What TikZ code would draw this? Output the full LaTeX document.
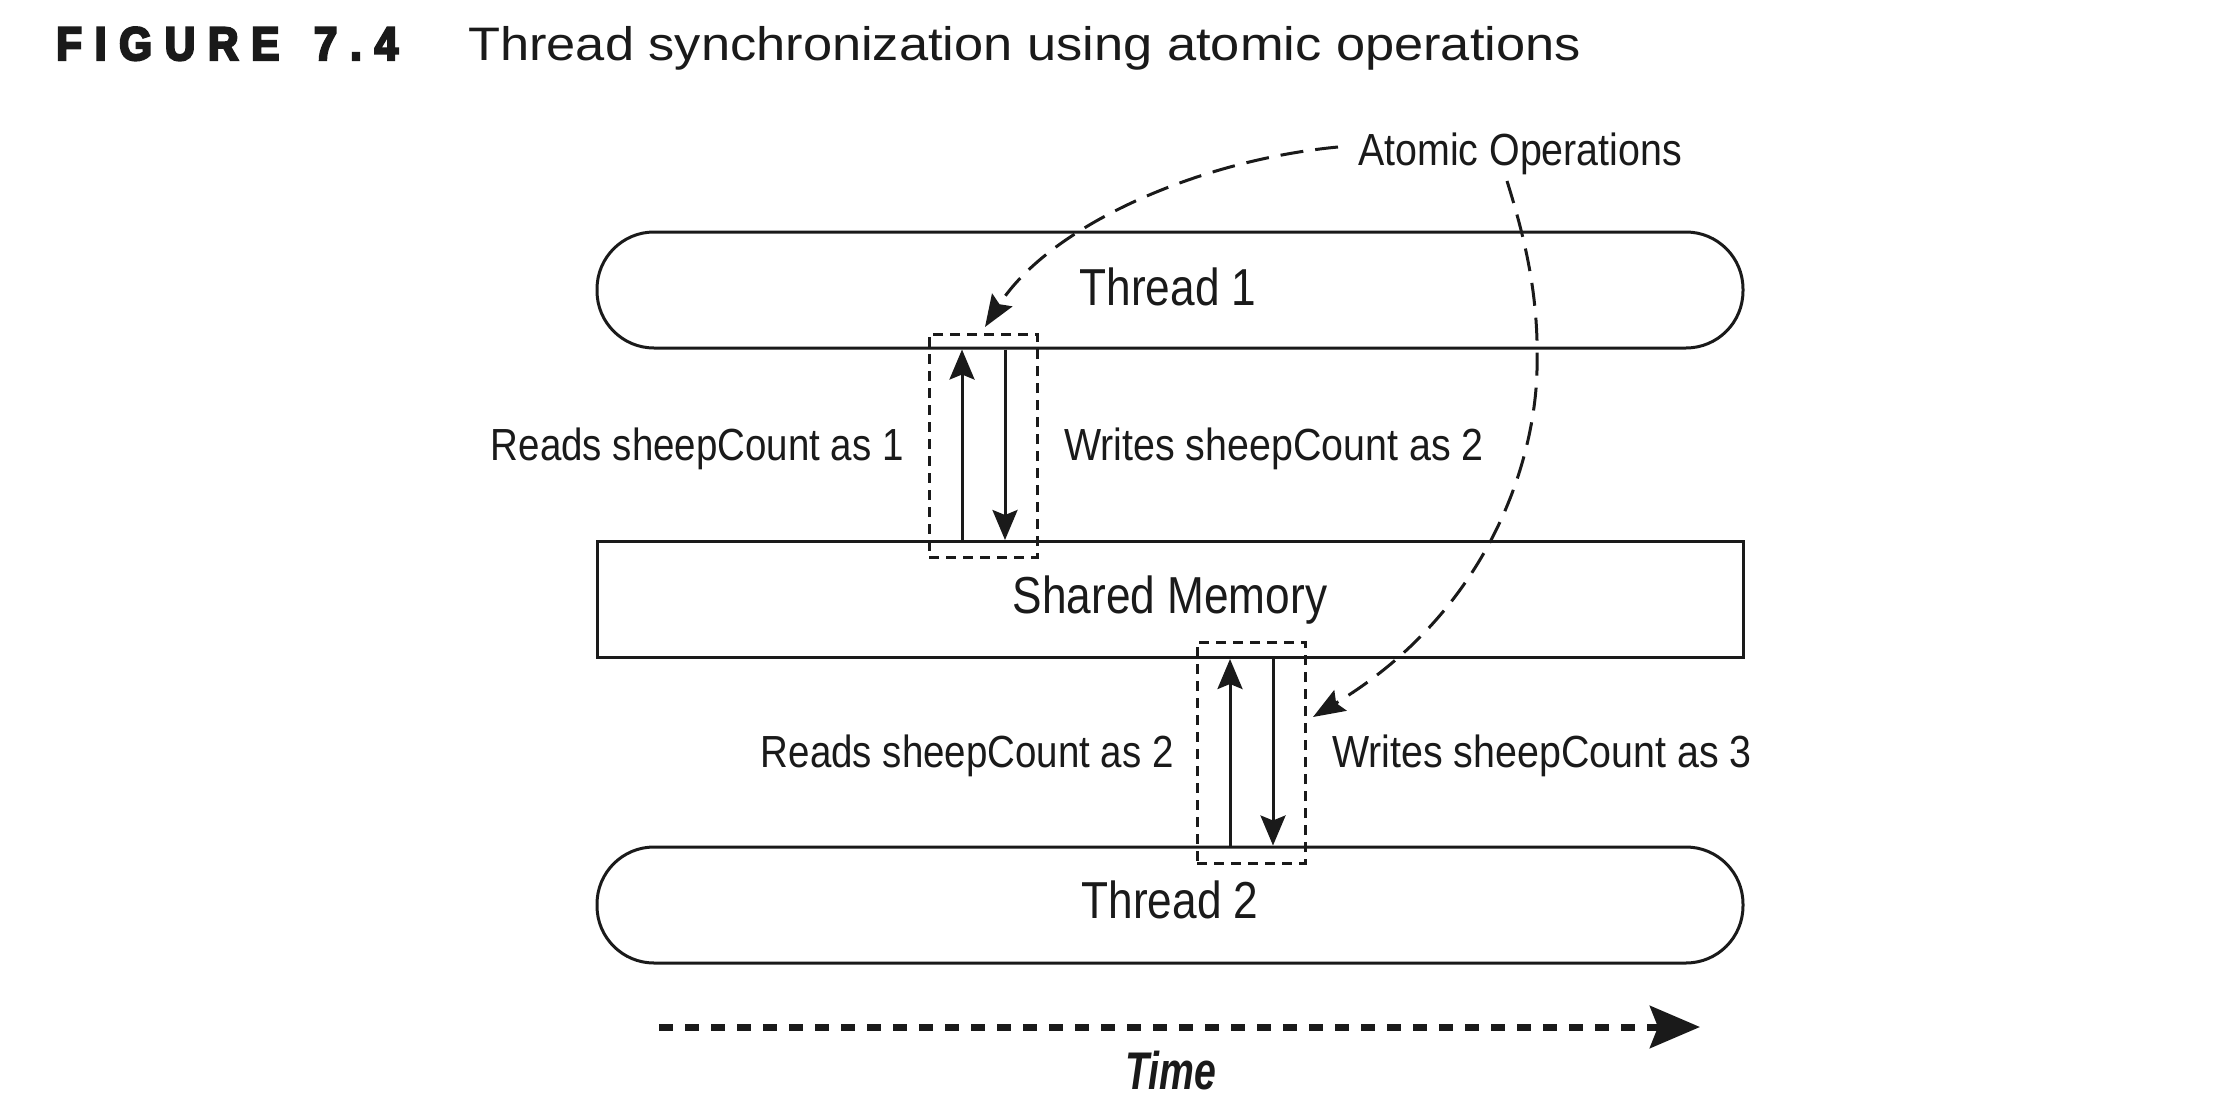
\documentclass[tikz,border=0pt]{standalone}
\usepackage{fontspec}
\setmainfont{Liberation Sans}[FakeStretch=0.85]
\newfontfamily\lblfont{Liberation Sans}[FakeStretch=0.875]
\newfontfamily\rdfont{Liberation Sans}[FakeStretch=0.855]
\newfontfamily\titlefont{Liberation Sans}[FakeStretch=1.115]
\newfontfamily\figfont{Liberation Sans Bold}[FakeStretch=0.9,LetterSpace=27,FakeBold=5]
\newfontfamily\timefont{Liberation Sans}[FakeStretch=0.74]
\usetikzlibrary{arrows.meta}
\definecolor{ink}{HTML}{1A1A1A}
\tikzset{
  panel/.style={draw=ink, line width=3, minimum width=1146, minimum height=116, inner sep=0},
  pill/.style={panel, rounded corners=57},
  bigtxt/.style={inner sep=0, anchor=base, text=ink, font=\fontsize{52}{60}\selectfont},
  lbl/.style={inner sep=0, text=ink, font=\lblfont\fontsize{45}{52}\selectfont},
  rdlbl/.style={inner sep=0, text=ink, font=\rdfont\fontsize{45}{52}\selectfont},
  dbox/.style={draw=ink, line width=3, dash pattern=on 10 off 7, minimum width=108, inner sep=0},
  arr/.style={draw=ink, line width=3, -{Stealth[length=30, width=25, inset=5]}},
  dcurve/.style={draw=ink, line width=3, dash pattern=on 23 off 12, -{Stealth[length=32, width=24, inset=5]}},
}
\begin{document}
\begin{tikzpicture}[x=1pt, y=-1pt]
\fill[white] (0,0) rectangle (2236,1098);
\useasboundingbox (0,0) rectangle (2236,1098);

% title
\node[anchor=base west, inner sep=0, text=ink] (fig) at (56,60)
  {\figfont\fontsize{47}{50}\selectfont FIGURE\hspace{10pt} 7.4};
\node[anchor=base west, inner sep=0, text=ink] (ttl) at (468,60)
  {\titlefont\fontsize{47}{55}\selectfont Thread synchronization using atomic operations};

% main boxes
\node[pill]  (t1) at (1170,290) {};
\node[panel] (sm) at (1170,599.5) {};
\node[pill]  (t2) at (1170,905) {};
\node[bigtxt] (t1l) at (1168,305) {Thread 1};
\node[bigtxt] (sml) at (1170,613) {Shared Memory};
\node[bigtxt] (t2l) at (1170,918) {Thread 2};

% dashed boxes
\node[dbox, minimum height=223] (db1) at (983,445.5) {};
\node[dbox, minimum height=221] (db2) at (1251,752.5) {};

% arrow x positions
\coordinate (x1) at (962,0);
\coordinate (x2) at (1005,0);
\coordinate (x3) at (1230,0);
\coordinate (x4) at (1273,0);
\draw[arr] (x1 |- sm.north) -- (x1 |- t1.south);
\draw[arr] (x2 |- t1.south) -- (x2 |- sm.north);
\draw[arr] (x3 |- t2.north) -- (x3 |- sm.south);
\draw[arr] (x4 |- sm.south) -- (x4 |- t2.north);

% labels
\node[rdlbl, anchor=base east] (r1) at (904,460) {Reads sheepCount as 1};
\node[lbl, anchor=base west] (w1) at (1064,460) {Writes sheepCount as 2};
\node[rdlbl, anchor=base east] (r2) at (1174,767) {Reads sheepCount as 2};
\node[lbl, anchor=base west] (w2) at (1332,767) {Writes sheepCount as 3};

% atomic operations
\node[lbl, anchor=base west] (ao) at (1358,165) {Atomic Operations};
\coordinate (c1s) at (1338,147);
\coordinate (c1e) at (985,327);
\coordinate (c2s) at (1507,181);
\coordinate (c2m) at (1537,370);
\coordinate (c2e) at (1313,717);
\draw[dcurve] (c1s) .. controls (1200,160) and (1050,225) .. (c1e);
\draw[dcurve] (c2s) .. controls (1527,245) and (1539,300) .. (c2m)
                    .. controls (1535,460) and (1490,610) .. (c2e);

% time arrow
\coordinate (ts) at (659,1027);
\coordinate (te) at (1700,1027);
\draw[ink, line width=7, dash pattern=on 14 off 12, -{Stealth[length=50, width=42, inset=8]}] (ts) -- (te);
\node[anchor=base, inner sep=0, text=ink] (time) at (1171,1089)
  {\timefont\bfseries\itshape\fontsize{53}{60}\selectfont Time};
\end{tikzpicture}
\end{document}
